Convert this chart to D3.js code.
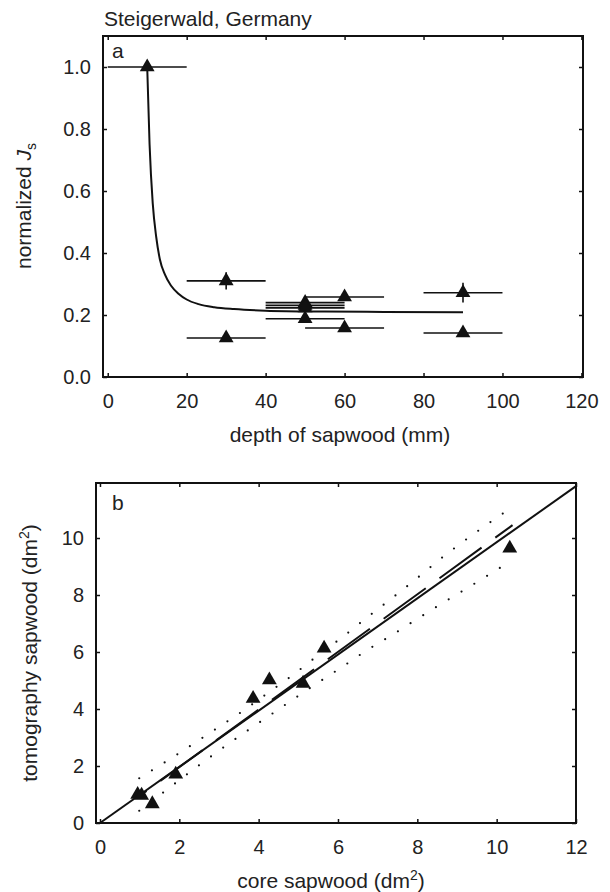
<!DOCTYPE html>
<html>
<head>
<meta charset="utf-8">
<script src="https://cdn.jsdelivr.net/npm/d3@7"></script>
<style>
  html, body { margin: 0; padding: 0; background: #fff; }
  svg { display: block; font-family: "Liberation Sans", Arial, sans-serif; }
  .tick text { font-size: 20px; fill: #222; }
  .tick line { stroke: #111; stroke-width: 1.5; }
  .frame { fill: none; stroke: #111; stroke-width: 2; }
  .label { font-size: 21px; fill: #222; }
</style>
</head>
<body>
<svg id="chart" width="610" height="892"></svg>
<script>
// panel a: normalized sap flux density vs sapwood depth
const depthX = [10, 30, 30, 50, 50, 50, 50, 60, 60, 90, 90];
const fluxY = [1.0, 0.31, 0.126, 0.24, 0.231, 0.223, 0.188, 0.258, 0.158, 0.272, 0.142];
const depthErr = [10, 10, 10, 10, 10, 10, 10, 10, 10, 10, 10];
const fluxErr = [0, 0.028, 0, 0, 0, 0, 0, 0, 0, 0.032, 0];
// fitted curve
const curveX = [10, 10.6, 11.4, 12.3, 13.2, 14.5, 16, 18, 20, 23, 27, 32, 40, 55, 70, 90];
const curveY = [1.0, 0.75, 0.56, 0.45, 0.38, 0.33, 0.295, 0.268, 0.25, 0.235, 0.225, 0.219, 0.214, 0.211, 0.21, 0.209];
const ticksA_x = [0, 20, 40, 60, 80, 100, 120];
const ticksA_y = [0, 0.2, 0.4, 0.6, 0.8, 1.0];

// panel b: tomography vs core sapwood area
const coreX = [0.95, 1.05, 1.32, 1.91, 3.86, 4.27, 5.12, 5.65, 10.33];
const tomoY = [1.0, 0.97, 0.67, 1.71, 4.37, 5.02, 4.9, 6.13, 9.64];
const regLine = [[0, 0], [12, 11.82]];
const dashLine = [[0.95, 0.9], [10.4, 10.45]];
const upperBand = [[0.99, 1.57], [1.95, 2.41], [2.91, 3.29], [3.55, 3.88], [4.2, 4.53], [4.83, 5.16],
  [5.46, 5.84], [6.11, 6.52], [6.74, 7.22], [7.39, 7.92], [8.02, 8.62], [8.65, 9.34], [8.98, 9.69], [10.3, 11.0]];
const lowerBand = [[0.99, 0.43], [1.64, 1.12], [2.27, 1.79], [2.91, 2.45], [3.55, 3.08], [4.2, 3.70],
  [4.83, 4.30], [5.47, 4.9], [6.11, 5.48], [6.74, 6.07], [7.39, 6.62], [8.02, 7.18], [8.65, 7.73],
  [9.29, 8.27], [9.93, 8.82], [10.24, 9.09]];
const ticksB = [0, 2, 4, 6, 8, 10, 12];
const ticksB_y = [0, 2, 4, 6, 8, 10];

const svg = d3.select('#chart');
const tri = d3.symbol().type(d3.symbolTriangle).size(95);

// draws frame + inward ticks on all four sides
function drawFrame(g, x, y, xt, yt, yfmt) {
    const [x0, x1] = x.range();
    const [y0, y1] = y.range();
    g.append('g').attr('transform', `translate(0,${y0})`)
        .call(d3.axisBottom(x).tickValues(xt).tickSize(-4).tickPadding(17).tickFormat(d3.format('d')));
    g.append('g').attr('transform', `translate(0,${y1})`)
        .call(d3.axisTop(x).tickValues(xt).tickSize(-4).tickFormat(''));
    g.append('g').attr('transform', `translate(${x0},0)`)
        .call(d3.axisLeft(y).tickValues(yt).tickSize(-4).tickPadding(12).tickFormat(yfmt));
    g.append('g').attr('transform', `translate(${x1},0)`)
        .call(d3.axisRight(y).tickValues(yt).tickSize(-4).tickFormat(''));
    g.selectAll('.domain').remove();
    g.append('rect').attr('class', 'frame')
        .attr('x', x0).attr('y', y1).attr('width', x1 - x0).attr('height', y0 - y1);
}

// ---- panel a ----
const xa = d3.scaleLinear().domain([-1.2, 120.4]).range([103, 583]);
const ya = d3.scaleLinear().domain([0, 1.1]).range([377, 36]);
const ga = svg.append('g');

svg.append('text').attr('class', 'label').attr('x', 104).attr('y', 26).text('Steigerwald, Germany');

const ptsA = depthX.map((d, i) => ({ x: d, y: fluxY[i], ex: depthErr[i], ey: fluxErr[i] }));

ga.append('g').selectAll('line').data(ptsA).enter().append('line')
    .attr('x1', d => xa(d.x - d.ex)).attr('x2', d => xa(d.x + d.ex))
    .attr('y1', d => ya(d.y)).attr('y2', d => ya(d.y))
    .attr('stroke', '#111').attr('stroke-width', 1.6);
ga.append('g').selectAll('line').data(ptsA.filter(d => d.ey > 0)).enter().append('line')
    .attr('x1', d => xa(d.x)).attr('x2', d => xa(d.x))
    .attr('y1', d => ya(d.y - d.ey)).attr('y2', d => ya(d.y + d.ey))
    .attr('stroke', '#111').attr('stroke-width', 1.6);

ga.append('path')
    .datum(curveX.map((d, i) => [d, curveY[i]]))
    .attr('fill', 'none').attr('stroke', '#111').attr('stroke-width', 2)
    .attr('d', d3.line().x(d => xa(d[0])).y(d => ya(d[1])).curve(d3.curveMonotoneX));

ga.append('g').selectAll('path').data(ptsA).enter().append('path')
    .attr('d', tri).attr('fill', '#111')
    .attr('transform', d => `translate(${xa(d.x)},${ya(d.y)})`);

drawFrame(ga, xa, ya, ticksA_x, ticksA_y, d3.format('.1f'));

ga.append('text').attr('class', 'label').attr('x', 112).attr('y', 58).text('a');
ga.append('text').attr('class', 'label').attr('text-anchor', 'middle')
    .attr('x', 340).attr('y', 442).text('depth of sapwood (mm)');
const yla = ga.append('text').attr('class', 'label').attr('text-anchor', 'middle')
    .attr('transform', 'translate(31,206) rotate(-90)');
yla.append('tspan').text('normalized ');
yla.append('tspan').attr('font-style', 'italic').text('J');
yla.append('tspan').attr('font-size', 14).attr('dy', 5).text('s');

// ---- panel b ----
const xb = d3.scaleLinear().domain([-0.1, 12]).range([96, 576]);
const yb = d3.scaleLinear().domain([0, 11.93]).range([823, 483]);
const gb = svg.append('g');
const lineB = d3.line().x(d => xb(d[0])).y(d => yb(d[1]));

[upperBand, lowerBand].forEach(band => {
    gb.append('path').datum(band)
        .attr('fill', 'none').attr('stroke', '#111').attr('stroke-width', 2.2)
        .attr('stroke-linecap', 'round').attr('stroke-dasharray', '0 15')
        .attr('d', d3.line().x(d => xb(d[0])).y(d => yb(d[1])).curve(d3.curveMonotoneX));
});

gb.append('path').datum(regLine)
    .attr('fill', 'none').attr('stroke', '#111').attr('stroke-width', 2)
    .attr('d', lineB);
gb.append('path').datum(dashLine)
    .attr('fill', 'none').attr('stroke', '#111').attr('stroke-width', 2)
    .attr('stroke-dasharray', '52 17').attr('stroke-dashoffset', 41)
    .attr('d', lineB);

gb.append('g').selectAll('path').data(coreX.map((d, i) => [d, tomoY[i]])).enter().append('path')
    .attr('d', tri).attr('fill', '#111')
    .attr('transform', d => `translate(${xb(d[0])},${yb(d[1])})`);

drawFrame(gb, xb, yb, ticksB, ticksB_y, d3.format('d'));

gb.append('text').attr('class', 'label').attr('x', 112).attr('y', 510).text('b');
const xlb = gb.append('text').attr('class', 'label').attr('text-anchor', 'middle')
    .attr('x', 331).attr('y', 888);
xlb.append('tspan').text('core sapwood (dm');
xlb.append('tspan').attr('font-size', 14).attr('dy', -8).text('2');
xlb.append('tspan').attr('dy', 8).text(')');
const ylb = gb.append('text').attr('class', 'label').attr('text-anchor', 'middle')
    .attr('transform', 'translate(37,653) rotate(-90)');
ylb.append('tspan').text('tomography sapwood (dm');
ylb.append('tspan').attr('font-size', 14).attr('dy', -8).text('2');
ylb.append('tspan').attr('dy', 8).text(')');
</script>
</body>
</html>
